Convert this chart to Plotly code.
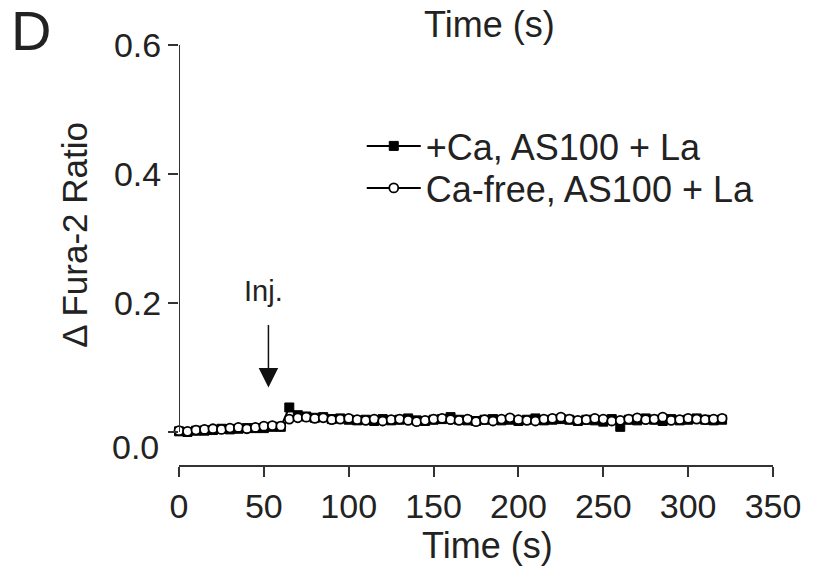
import plotly.graph_objects as go

# ---- data ----
time_s = [0, 5, 10, 15, 20, 25, 30, 35, 40, 45, 50, 55, 60,
          65, 70, 75, 80, 85, 90, 95, 100, 105, 110, 115, 120, 125, 130, 135, 140,
          145, 150, 155, 160, 165, 170, 175, 180, 185, 190, 195, 200, 205, 210,
          215, 220, 225, 230, 235, 240, 245, 250, 255, 260, 265, 270, 275, 280,
          285, 290, 295, 300, 305, 310, 315, 320]

ca_plus = [0.001, 0.000, 0.002, 0.002, 0.003, 0.005, 0.004, 0.005, 0.006, 0.006, 0.006, 0.008, 0.008,
           0.038, 0.026, 0.024, 0.022, 0.023, 0.020, 0.021, 0.019, 0.018, 0.019, 0.017, 0.020, 0.018, 0.019, 0.021, 0.018,
           0.017, 0.019, 0.020, 0.023, 0.019, 0.018, 0.017, 0.019, 0.020, 0.018, 0.019, 0.017, 0.019, 0.021,
           0.018, 0.019, 0.020, 0.019, 0.017, 0.019, 0.018, 0.016, 0.020, 0.008, 0.019, 0.018, 0.021, 0.019,
           0.017, 0.020, 0.018, 0.019, 0.021, 0.019, 0.018, 0.019]

ca_free = [0.002, 0.001, 0.003, 0.004, 0.005, 0.004, 0.006, 0.007, 0.005, 0.007, 0.009, 0.010, 0.009,
           0.020, 0.022, 0.023, 0.021, 0.022, 0.019, 0.020, 0.021, 0.019, 0.018, 0.020, 0.017, 0.019, 0.020, 0.018, 0.016,
           0.018, 0.020, 0.021, 0.019, 0.018, 0.020, 0.016, 0.019, 0.017, 0.020, 0.022, 0.019, 0.018, 0.017,
           0.020, 0.021, 0.023, 0.020, 0.018, 0.019, 0.021, 0.020, 0.017, 0.018, 0.020, 0.022, 0.019, 0.020,
           0.023, 0.018, 0.019, 0.021, 0.020, 0.019, 0.020, 0.021]

names = ["+Ca, AS100 + La", "Ca-free, AS100 + La"]
x_ticks = [0, 50, 100, 150, 200, 250, 300, 350]
y_ticks = [0.0, 0.2, 0.4, 0.6]
y_tick_text = ["", "0.2", "0.4", "0.6"]
inj_time = 52.7
inj_tip = 0.069

FONT = "Liberation Sans, Arial, Helvetica, sans-serif"
INK = "#222222"
PLOT_L, PLOT_R, PLOT_T, PLOT_B = 179, 777, 45, 465
PW, PH = PLOT_R - PLOT_L, PLOT_B - PLOT_T


def px_x(p):
    return (p - PLOT_L) / PW


def px_y(p):
    return (PLOT_B - p) / PH


fig = go.Figure()
fig.add_trace(go.Scatter(
    x=time_s, y=ca_plus, name=names[0], mode="lines+markers", legend="legend",
    line=dict(color="black", width=2),
    marker=dict(symbol="square", size=9, color="black", line=dict(color="black", width=1)),
    cliponaxis=False,
))
fig.add_trace(go.Scatter(
    x=time_s, y=ca_free, name=names[1], mode="lines+markers", legend="legend2",
    line=dict(color="black", width=2),
    marker=dict(symbol="circle", size=9, color="white", line=dict(color="black", width=1.8)),
    cliponaxis=False,
))

leg_common = dict(xanchor="left", yanchor="middle", bgcolor="rgba(0,0,0,0)", borderwidth=0,
                  font=dict(size=36, color=INK), itemwidth=54)

fig.update_layout(
    width=813, height=567,
    margin=dict(l=PLOT_L, r=813 - PLOT_R, t=PLOT_T, b=567 - PLOT_B, pad=0),
    paper_bgcolor="white", plot_bgcolor="white",
    font=dict(family=FONT, size=34, color=INK),
    showlegend=True,
    legend=dict(x=px_x(363), y=px_y(146), **leg_common),
    legend2=dict(x=px_x(363), y=px_y(188), **leg_common),
    xaxis=dict(
        range=[0, 350], tickvals=x_ticks, showgrid=False, zeroline=False,
        showline=True, linecolor="#333333", linewidth=2,
        ticks="outside", ticklen=10, tickwidth=2, tickcolor="#333333",
        tickfont=dict(size=34, color=INK),
    ),
    yaxis=dict(
        range=[-0.0512, 0.6], tickvals=y_ticks, ticktext=y_tick_text,
        showgrid=False, zeroline=False, showline=False,
        ticks="outside", ticklen=10, tickwidth=2, tickcolor="#333333",
        tickfont=dict(size=34, color=INK),
    ),
)

# y axis line from 0 to 0.6 (detached from x axis)
fig.add_shape(type="line", xref="x", yref="y", x0=0, x1=0, y0=0, y1=0.6,
              line=dict(color="#333333", width=2))

ann = []
# 0.0 tick label (drawn slightly lower, as in the original)
ann.append(dict(text="0.0", xref="paper", yref="paper", x=px_x(161), y=px_y(447),
                xanchor="right", yanchor="middle", showarrow=False,
                font=dict(size=34, color=INK)))
# axis titles
ann.append(dict(text="Time (s)", xref="paper", yref="paper", x=px_x(490), y=px_y(545),
                xanchor="center", yanchor="middle", showarrow=False, font=dict(size=36, color=INK)))
ann.append(dict(text="Δ Fura-2 Ratio", xref="paper", yref="paper", x=px_x(74), y=px_y(235),
                xanchor="center", yanchor="middle", textangle=-90, showarrow=False,
                font=dict(size=35, color=INK)))
# title of the panel above, at the very top edge
ann.append(dict(text="Time (s)", xref="paper", yref="paper", x=px_x(492), y=px_y(2),
                xanchor="center", yanchor="top", showarrow=False, font=dict(size=36, color=INK)))
# panel letter
ann.append(dict(text="D", xref="paper", yref="paper", x=px_x(30), y=px_y(31),
                xanchor="center", yanchor="middle", showarrow=False, font=dict(size=56, color=INK)))
# injection marker
ann.append(dict(text="Inj.", xref="paper", yref="paper", x=px_x(264), y=px_y(291),
                xanchor="center", yanchor="middle", showarrow=False, font=dict(size=29, color=INK)))
ann.append(dict(text="", xref="x", yref="y", x=inj_time, y=inj_tip, ax=0, ay=-64,
                showarrow=True, arrowhead=2, arrowsize=2.6, arrowwidth=1.5, arrowcolor="#111111"))
fig.update_layout(annotations=ann)

fig.write_html("out.html")
